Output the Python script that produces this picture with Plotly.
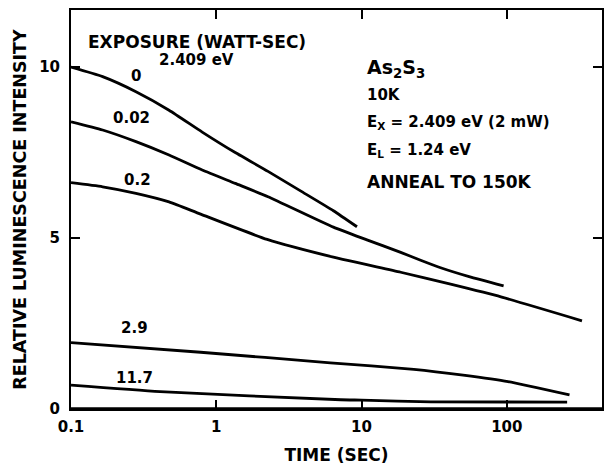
import plotly.graph_objects as go
import math

# ---- data ----
t_0 = [0.1, 0.165, 0.28, 0.473, 0.80, 1.35, 2.27, 3.8, 6.4, 9.3]
i_0 = [10.0, 9.72, 9.28, 8.74, 8.1, 7.5, 6.95, 6.38, 5.8, 5.33]

t_002 = [0.1, 0.165, 0.28, 0.473, 0.80, 1.35, 2.27, 6.4, 11, 18.6, 25.5, 35, 55, 95]
i_002 = [8.4, 8.16, 7.82, 7.43, 6.99, 6.6, 6.21, 5.32, 4.94, 4.58, 4.35, 4.13, 3.87, 3.6]

t_02 = [0.1, 0.165, 0.28, 0.473, 0.78, 2.24, 6.4, 18.6, 41, 91, 329]
i_02 = [6.62, 6.5, 6.31, 6.06, 5.7, 4.96, 4.44, 4.0, 3.65, 3.28, 2.58]

t_29 = [0.1, 0.78, 6.1, 22.9, 50, 102, 270]
i_29 = [1.94, 1.66, 1.35, 1.16, 0.99, 0.8, 0.41]

t_117 = [0.1, 0.41, 7.2, 10, 30, 260]
i_117 = [0.7, 0.51, 0.27, 0.26, 0.21, 0.2]

series_names = ["0", "0.02", "0.2", "2.9", "11.7"]
series_t = [t_0, t_002, t_02, t_29, t_117]
series_i = [i_0, i_002, i_02, i_29, i_117]

# label positions (time, intensity) for each series label
label_t = [0.28, 0.262, 0.285, 0.275, 0.275]
label_i = [9.74, 8.5, 6.7, 2.36, 0.9]

x_tickvals = [0.1, 1, 10, 100]
x_ticktext = ["0.1", "1", "10", "100"]
y_tickvals = [0, 5, 10]
y_ticktext = ["0", "5", "10"]

FONT = "DejaVu Sans, Verdana, sans-serif"


def f(size):
    return dict(size=size, color="black", family=FONT, weight="bold")


fig = go.Figure()
for name, t, v in zip(series_names, series_t, series_i):
    fig.add_trace(go.Scatter(x=t, y=v, mode="lines", name=name,
                             line=dict(color="black", width=2.8, shape="spline", smoothing=0.5),
                             showlegend=False, hoverinfo="skip"))

annotations = []
for name, lt, li in zip(series_names, label_t, label_i):
    annotations.append(dict(x=math.log10(lt), y=li, xref="x", yref="y", text=name,
                            showarrow=False, font=f(15),
                            xanchor="center", yanchor="middle"))

annotations.append(dict(x=math.log10(0.126), y=10.72, xref="x", yref="y",
                        text="EXPOSURE (WATT-SEC)", showarrow=False, font=f(17),
                        xanchor="left", yanchor="middle"))
annotations.append(dict(x=math.log10(0.39), y=10.2, xref="x", yref="y",
                        text="2.409 eV", showarrow=False, font=f(15),
                        xanchor="left", yanchor="middle"))

right_notes = [
    ("As<sub>2</sub>S<sub>3</sub>", 9.95, 19),
    ("10K", 9.18, 15),
    ("E<sub>X</sub> = 2.409 eV (2 mW)", 8.39, 15),
    ("E<sub>L</sub> = 1.24 eV", 7.57, 15),
    ("ANNEAL TO 150K", 6.64, 17),
]
for txt, yy, fs in right_notes:
    annotations.append(dict(x=math.log10(10.5), y=yy, xref="x", yref="y", text=txt,
                            showarrow=False, font=f(fs),
                            xanchor="left", yanchor="middle"))

fig.update_layout(
    width=607, height=467,
    margin=dict(l=71, r=3, t=10, b=58),
    paper_bgcolor="white", plot_bgcolor="white",
    font=f(15),
    annotations=annotations,
    shapes=[dict(type="line", xref="paper", yref="y", x0=0, x1=1, y0=0, y1=0,
                 line=dict(color="black", width=3.5))],
    xaxis=dict(type="log", range=[-1, 2.655], tickvals=x_tickvals, ticktext=x_ticktext,
               ticks="inside", ticklen=9, tickwidth=1.5, tickcolor="black",
               showline=True, linecolor="black", linewidth=2, mirror="ticks",
               showgrid=False, zeroline=False,
               tickfont=f(15), ticklabelstandoff=3,
               title=dict(text="TIME (SEC)", font=f(17), standoff=14)),
    yaxis=dict(range=[0, 11.67], tickvals=y_tickvals, ticktext=y_ticktext,
               ticks="inside", ticklen=9, tickwidth=1.5, tickcolor="black",
               showline=True, linecolor="black", linewidth=2, mirror="ticks",
               showgrid=False, zeroline=False,
               tickfont=f(15), ticklabelstandoff=6,
               title=dict(text="RELATIVE LUMINESCENCE INTENSITY", font=f(17.5),
                          standoff=8)),
)

fig.write_html("out.html", config={"displayModeBar": False},
               post_script="document.body.style.margin='0';")
